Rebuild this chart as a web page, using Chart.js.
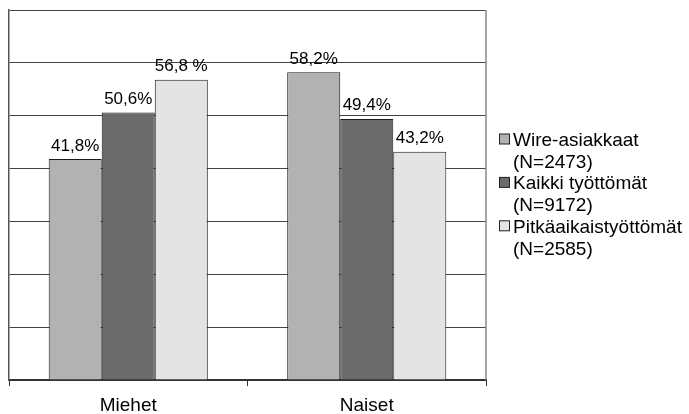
<!DOCTYPE html>
<html>
<head>
<meta charset="utf-8">
<script src="https://cdn.jsdelivr.net/npm/chart.js@4"></script>
<style>
  html, body { margin: 0; padding: 0; background: #fff; }
  #wrap { width: 689px; height: 414px; }
</style>
</head>
<body>
<div id="wrap"><canvas id="c" width="689" height="414"></canvas></div>
<script>
// Categories and series
const categories = ['Miehet', 'Naiset'];
const seriesNames = [
  ['Wire-asiakkaat', '(N=2473)'],
  ['Kaikki työttömät', '(N=9172)'],
  ['Pitkäaikaistyöttömät', '(N=2585)']
];
const wireValues = [41.8, 58.2];
const kaikkiValues = [50.6, 49.4];
const pitkaValues = [56.8, 43.2];
// Percent sign written after each value label
const labelSuffixes = [['%', '%'], ['%', '%'], [' %', '%']];
// Value axis range (gridlines every 10 %)
const yMin = 0, yMax = 70, yStep = 10;

const FONT = '"Liberation Sans", Arial, Helvetica, sans-serif';
Chart.defaults.font.family = FONT;
Chart.defaults.color = '#000';

const fills = ['#b2b2b2', '#6b6b6b', '#e4e4e4'];

// Value labels above each bar
const valueLabels = {
  id: 'valueLabels',
  afterDatasetsDraw(chart) {
    const ctx = chart.ctx;
    ctx.save();
    ctx.font = '17px ' + FONT;
    ctx.fillStyle = '#000';
    ctx.textAlign = 'center';
    ctx.textBaseline = 'alphabetic';
    chart.data.datasets.forEach((ds, i) => {
      chart.getDatasetMeta(i).data.forEach((bar, j) => {
        const txt = ds.data[j].toFixed(1).replace('.', ',') + labelSuffixes[i][j];
        ctx.fillText(txt, bar.x, bar.y - 8.5);
      });
    });
    ctx.restore();
  }
};

// Right-hand frame line and the two-line legend beside the plot
const frameAndLegend = {
  id: 'frameAndLegend',
  afterDraw(chart) {
    const ctx = chart.ctx;
    const a = chart.chartArea;
    ctx.save();
    ctx.strokeStyle = '#888';
    ctx.lineWidth = 1.5;
    ctx.beginPath();
    ctx.moveTo(a.right, a.top);
    ctx.lineTo(a.right, a.bottom);
    ctx.stroke();

    ctx.font = '19px ' + FONT;
    ctx.textAlign = 'left';
    ctx.textBaseline = 'alphabetic';
    const boxX = a.right + 13.5;
    const textX = a.right + 27;
    const lineH = 21.7;
    const firstBase = 146;
    chart.data.datasets.forEach((ds, i) => {
      const base = firstBase + i * 2 * lineH;
      ctx.fillStyle = ds.backgroundColor;
      ctx.fillRect(boxX, base - 12, 10, 10);
      ctx.strokeStyle = '#222';
      ctx.lineWidth = 1;
      ctx.strokeRect(boxX, base - 12, 10, 10);
      ctx.fillStyle = '#000';
      seriesNames[i].forEach((line, k) => ctx.fillText(line, textX, base + k * lineH));
    });
    ctx.restore();
  }
};

const barStyle = { borderColor: '#1a1a1a', borderWidth: 1, categoryPercentage: 0.667, barPercentage: 1 };

new Chart(document.getElementById('c'), {
  type: 'bar',
  data: {
    labels: categories,
    datasets: [
      { label: seriesNames[0].join(' '), data: wireValues, backgroundColor: fills[0], ...barStyle },
      { label: seriesNames[1].join(' '), data: kaikkiValues, backgroundColor: fills[1], ...barStyle },
      { label: seriesNames[2].join(' '), data: pitkaValues, backgroundColor: fills[2], ...barStyle }
    ]
  },
  options: {
    responsive: false,
    animation: false,
    devicePixelRatio: 1,
    layout: { padding: { left: 9, top: 10, right: 203, bottom: 0 } },
    plugins: { legend: { display: false }, tooltip: { enabled: false } },
    scales: {
      x: {
        offset: true,
        grid: { display: true, drawOnChartArea: false, tickLength: 6, color: '#333', lineWidth: 1 },
        border: { display: true, color: '#333', width: 2 },
        ticks: { color: '#000', font: { size: 19, lineHeight: 1.2 }, padding: 8 },
        afterFit(scale) { scale.height = 34; }
      },
      y: {
        min: yMin,
        max: yMax,
        ticks: { display: false, stepSize: yStep },
        grid: { color: '#444', drawTicks: false, lineWidth: 1 },
        border: { display: true, color: '#555', width: 1.5 }
      }
    }
  },
  plugins: [valueLabels, frameAndLegend]
});
</script>
</body>
</html>
